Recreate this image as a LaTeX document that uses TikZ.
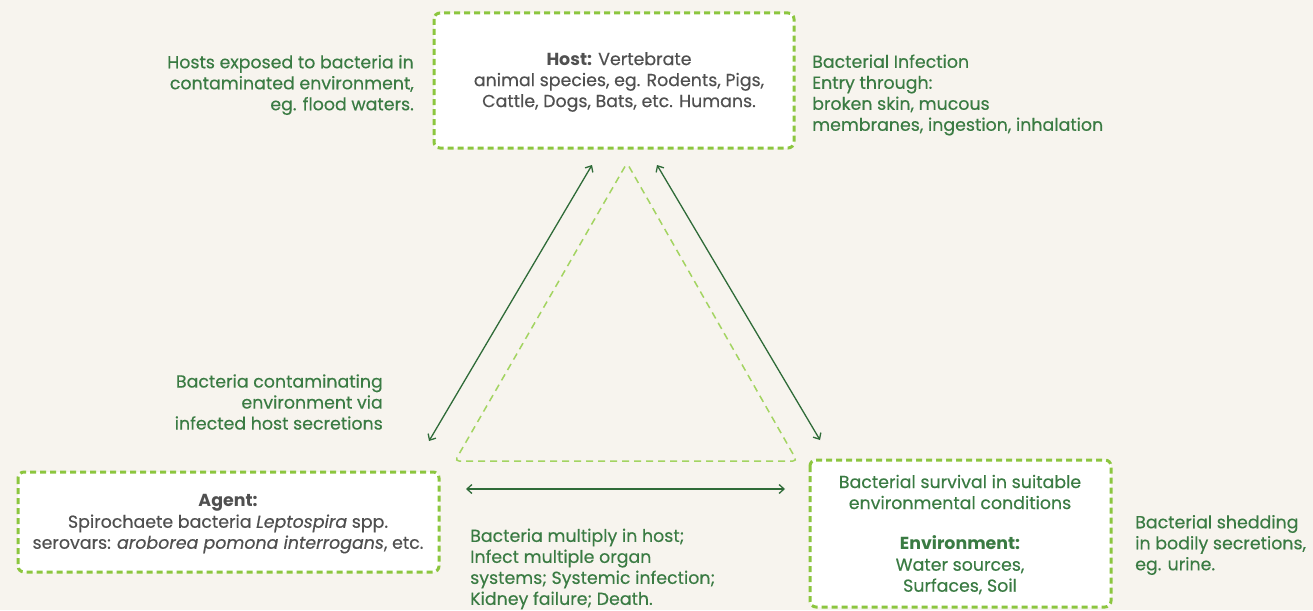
\documentclass[tikz,border=0pt]{standalone}
\usepackage{fontspec}
\setmainfont{Poppins}[UprightFeatures={FakeBold=0.35}, ItalicFeatures={FakeBold=0.35}]
\usetikzlibrary{arrows.meta}
\definecolor{bg}{HTML}{F7F4EE}
\definecolor{leaf}{HTML}{8CC63F}
\definecolor{paleleaf}{HTML}{A3D461}
\definecolor{forest}{HTML}{3A7B43}
\definecolor{arrowgreen}{HTML}{2F6B38}
\definecolor{ink}{HTML}{505050}
\tikzset{
  card/.style={draw=leaf, line width=3pt, dash pattern=on 6pt off 4pt, fill=white, rounded corners=6pt},
  note/.style={text=forest, font=\fontsize{17.4}{21}\selectfont, inner sep=0pt},
  cardtext/.style={font=\fontsize{17.4}{21}\selectfont, inner sep=0pt, align=center},
  link/.style={draw=arrowgreen, line width=1.3pt, {Straight Barb[length=5pt,width=9pt]}-{Straight Barb[length=5pt,width=9pt]}},
}
\begin{document}
\begin{tikzpicture}[x=1pt,y=-1pt]
  \useasboundingbox[fill=bg] (0,0) rectangle (1313,610);

  % the three corner cards
  \draw[card] (434,13) rectangle (794,148);
  \draw[card] (18,472) rectangle (439,572);
  \draw[card] (810,460) rectangle (1111,607);

  % central dashed triangle
  \draw[paleleaf, line width=1.5pt, dash pattern=on 7pt off 5pt, rounded corners=4pt]
    (627,163) -- (797,461) -- (455,461) -- cycle;

  % card contents
  \node[cardtext, text=ink] (host) at (619,82)
    {\textbf{Host:} Vertebrate\\animal species, eg. Rodents, Pigs,\\Cattle, Dogs, Bats, etc. Humans.};
  \node[cardtext, text=ink] (agent) at (228,524)
    {\textbf{Agent:}\\Spirochaete bacteria \textit{Leptospira} spp.\\serovars: \textit{aroborea pomona interrogans}, etc.};
  \node[cardtext, text=forest] (survival) at (960,492)
    {Bacterial survival in suitable\\environmental conditions};
  \node[cardtext, text=forest] (env) at (960,565)
    {\textbf{Environment:}\\Water sources,\\Surfaces, Soil};

  % notes around the triangle
  \node[note, align=right, anchor=east] (exposed) at (414,85)
    {Hosts exposed to bacteria in\\contaminated environment,\\eg. flood waters.};
  \node[note, align=left, anchor=west] (entry) at (812,95)
    {Bacterial Infection\\Entry through:\\broken skin, mucous\\membranes, ingestion, inhalation};
  \node[note, align=right, anchor=east] (contam) at (383,402)
    {Bacteria contaminating\\environment via\\infected host secretions};
  \node[note, align=left, anchor=west] (multiply) at (470,569)
    {Bacteria multiply in host;\\Infect multiple organ\\systems; Systemic infection;\\Kidney failure; Death.};
  \node[note, align=left, anchor=west] (shedding) at (1135,545)
    {Bacterial shedding\\in bodily secretions,\\eg. urine.};

  % two-way links between the corners
  \coordinate (hostL) at (592,165);
  \coordinate (agentT) at (429,441);
  \coordinate (hostR) at (657,165);
  \coordinate (envT) at (820,440);
  \coordinate (agentR) at (466,489);
  \coordinate (envL) at (785,489);
  \draw[link] (agentT) -- (hostL);
  \draw[link] (hostR) -- (envT);
  \draw[link] (agentR) -- (envL);
\end{tikzpicture}
\end{document}
